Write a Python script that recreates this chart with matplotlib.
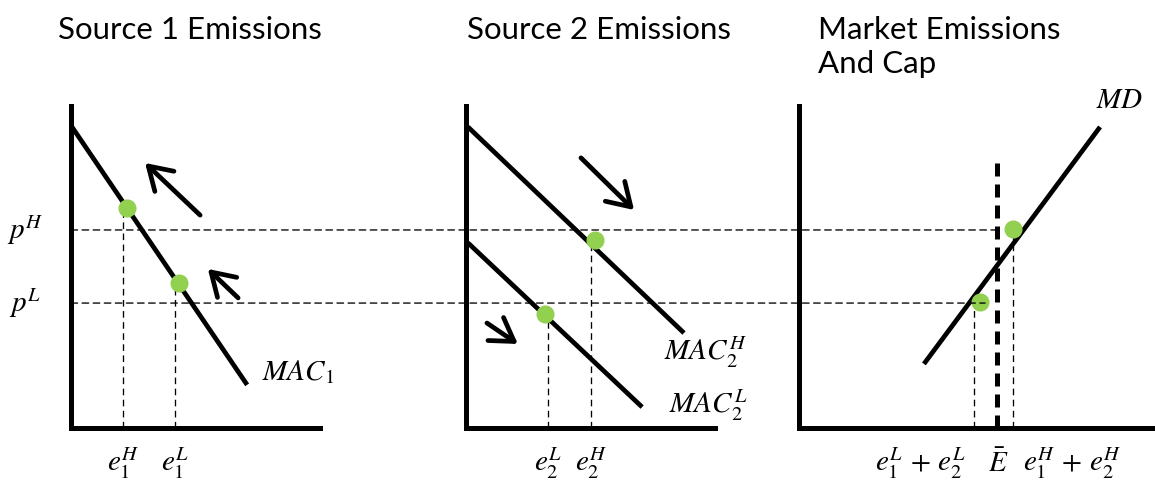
import matplotlib
matplotlib.use("Agg")
import matplotlib.pyplot as plt
from matplotlib.patches import ConnectionPatch

plt.rcParams['font.family'] = ['Lato', 'DejaVu Sans']
plt.rcParams['mathtext.fontset'] = 'stix'

# all values in diagram units (1 unit = same length on every axis)
p_high = 6.15
p_low = 3.88

# source 1
mac1_x = [0.03, 5.47]
mac1_y = [9.35, 1.34]
s1_dots_x = [1.74, 3.35]
s1_dots_y = [6.83, 4.50]
s1_drop_x = [1.61, 3.23]
s1_arrows = [((4.01, 6.61), (2.30, 8.23)), ((5.19, 4.04), (4.25, 4.94))]

# source 2
mac2h_x = [0.06, 6.77]
mac2h_y = [9.35, 2.95]
mac2l_x = [0.06, 5.47]
mac2l_y = [5.75, 0.65]
s2_dots_x = [4.01, 2.45]
s2_dots_y = [5.84, 3.54]
s2_drop_x = [3.88, 2.55]
s2_arrows = [((3.57, 8.39), (5.22, 6.77)), ((0.65, 3.26), (1.61, 2.61))]

# market
md_x = [3.88, 9.35]
md_y = [1.99, 9.35]
cap_x = 6.15
cap_top = 8.39
mk_dots_x = [6.65, 5.62]
mk_dots_y = [6.18, 3.91]
mk_drop_x = [6.65, 5.43]
line_end_high = 6.15
line_end_low = 5.78

W, H = 1155, 484
u = 32.2
green = '#92D050'
thin_dash = (0, (5.0, 3.4))

fig = plt.figure(figsize=(W / 100, H / 100), dpi=100)


def make_ax(left_px, width_px):
    ax = fig.add_axes([left_px / W, (H - 428) / H, width_px / W, 322 / H])
    ax.set_xlim(0, width_px / u)
    ax.set_ylim(0, 10)
    for s in ['top', 'right']:
        ax.spines[s].set_visible(False)
    for s in ['left', 'bottom']:
        ax.spines[s].set_linewidth(3.6)
        ax.spines[s].set_capstyle('projecting')
    ax.set_xticks([])
    ax.set_yticks([])
    ax.patch.set_visible(False)
    return ax


ax1 = make_ax(71, 249)
ax2 = make_ax(466, 249)
ax3 = make_ax(799, 353)

arrow_kw = dict(arrowstyle='->,head_length=0.8,head_width=0.5', lw=3.4,
                color='black', mutation_scale=20, shrinkA=0, shrinkB=0)
math_size = 21
title_size = 22.5

# price lines across panels
for p, end in [(p_high, line_end_high), (p_low, line_end_low)]:
    con = ConnectionPatch(xyA=(0, p), coordsA=ax1.transData,
                          xyB=(end, p), coordsB=ax3.transData,
                          color='black', lw=0.95, linestyle=thin_dash)
    fig.add_artist(con)

# panel 1
ax1.plot(mac1_x, mac1_y, color='black', lw=3.4, solid_capstyle='butt')
for x, y in zip(s1_drop_x, s1_dots_y):
    ax1.plot([x, x], [0, y], color='black', lw=0.95, linestyle=thin_dash)
ax1.plot(s1_dots_x, s1_dots_y, 'o', color=green, ms=12, zorder=5)
for start, end in s1_arrows:
    ax1.annotate('', xy=end, xytext=start, arrowprops=arrow_kw)
ax1.text(3.7, 12.35, 'Source 1 Emissions', ha='center', va='center', fontsize=title_size)
ax1.text(-1.43, p_high, r'$p^H$', ha='center', va='center', fontsize=math_size)
ax1.text(-1.43, p_low, r'$p^L$', ha='center', va='center', fontsize=math_size)
ax1.text(7.05, 1.74, r'$MAC_1$', ha='center', va='center', fontsize=math_size)
ax1.text(s1_drop_x[0], -1.09, r'$e_1^H$', ha='center', va='center', fontsize=math_size)
ax1.text(s1_drop_x[1], -1.09, r'$e_1^L$', ha='center', va='center', fontsize=math_size)

# panel 2
ax2.plot(mac2h_x, mac2h_y, color='black', lw=3.4, solid_capstyle='butt')
ax2.plot(mac2l_x, mac2l_y, color='black', lw=3.4, solid_capstyle='butt')
for x, y in zip(s2_drop_x, s2_dots_y):
    ax2.plot([x, x], [0, y], color='black', lw=0.95, linestyle=thin_dash)
ax2.plot(s2_dots_x, s2_dots_y, 'o', color=green, ms=12, zorder=5)
for start, end in s2_arrows:
    ax2.annotate('', xy=end, xytext=start, arrowprops=arrow_kw)
ax2.text(4.13, 12.35, 'Source 2 Emissions', ha='center', va='center', fontsize=title_size)
ax2.text(7.42, 2.36, r'$MAC_2^H$', ha='center', va='center', fontsize=math_size)
ax2.text(7.52, 0.71, r'$MAC_2^L$', ha='center', va='center', fontsize=math_size)
ax2.text(s2_drop_x[1], -1.09, r'$e_2^L$', ha='center', va='center', fontsize=math_size)
ax2.text(s2_drop_x[0], -1.09, r'$e_2^H$', ha='center', va='center', fontsize=math_size)

# panel 3
ax3.plot(md_x, md_y, color='black', lw=3.4, solid_capstyle='butt')
ax3.plot([cap_x, cap_x], [0, cap_top], color='black', lw=3.6,
         linestyle=(0, (2.6, 1.6)), dash_capstyle='butt')
for x, y in zip(mk_drop_x, mk_dots_y):
    ax3.plot([x, x], [0, y], color='black', lw=0.95, linestyle=thin_dash)
ax3.plot(mk_dots_x, mk_dots_y, 'o', color=green, ms=12, zorder=5)
ax3.text(0.59, 12.35, 'Market Emissions', ha='left', va='center', fontsize=title_size)
ax3.text(0.59, 11.3, 'And Cap', ha='left', va='center', fontsize=title_size)
ax3.text(9.97, 10.19, r'$MD$', ha='center', va='center', fontsize=math_size)
ax3.text(3.76, -1.09, r'$e_1^L\,+\,e_2^L$', ha='center', va='center', fontsize=math_size)
ax3.text(6.18, -1.09, r'$\bar{E}$', ha='center', va='center', fontsize=math_size)
ax3.text(8.48, -1.09, r'$e_1^H\,+\,e_2^H$', ha='center', va='center', fontsize=math_size)

fig.savefig('out.png', dpi=100)
